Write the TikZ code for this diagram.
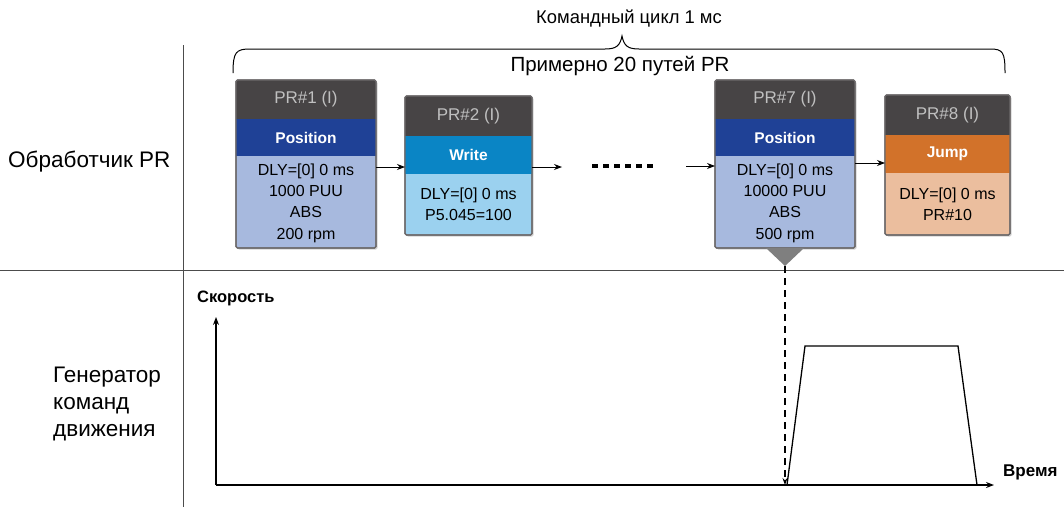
\documentclass[tikz,border=0pt]{standalone}
\usepackage{fontspec}
\setmainfont{Liberation Sans}
\usetikzlibrary{arrows.meta,shadows,decorations.pathreplacing}
\definecolor{hdr}{HTML}{474445}
\definecolor{hdrtxt}{HTML}{C0C0C0}
\definecolor{posblue}{HTML}{1F4196}
\definecolor{poslight}{HTML}{A7B9DE}
\definecolor{wrblue}{HTML}{0A85C5}
\definecolor{wrlight}{HTML}{9BD1EF}
\definecolor{jmp}{HTML}{D2722A}
\definecolor{jmplight}{HTML}{EBBE9E}
\definecolor{tri}{HTML}{7F7F7F}
\tikzset{
  x=1pt,y=-1pt,
  part/.style={anchor=north west,inner sep=0pt,outer sep=0pt,align=center},
  hdrbox/.style={part,fill=hdr,text=hdrtxt,font=\fontsize{17}{20}\selectfont},
  midbox/.style={part,text=white,font=\bfseries\fontsize{15.5}{18}\selectfont},
  bodybox/.style={part,text=black,font=\fontsize{16}{21.3}\selectfont},
  frame/.style={draw=hdr!80,line width=1.2pt,rounded corners=1.5pt,drop shadow={opacity=0.35,shadow xshift=1.5pt,shadow yshift=-1.5pt}},
  flow/.style={-{Stealth[length=8pt,width=6pt]},line width=0.9pt},
  axis/.style={-{Stealth[length=8pt,width=6pt]},line width=1.2pt},
  lbl/.style={font=\fontsize{22.5}{27}\selectfont,align=left,inner sep=0pt},
}
\begin{document}
\begin{tikzpicture}
\useasboundingbox (0,0) rectangle (1064,507);
% separators
\draw[line width=0.8pt,black!70] (183,45) -- (183,507);
\draw[line width=0.8pt,black!70] (0,270) -- (1064,270);
% left labels
\node[lbl,anchor=west] (lab1) at (8,162) {Обработчик PR};
\node[lbl,anchor=west] (lab2) at (53,404) {Генератор\\команд\\движения};
% brace
\draw[line width=1pt] (233,73) .. controls (233,52) and (236,49) .. (250,49) -- (605,49) .. controls (616,49) and (620,46) .. (622,36) .. controls (624,46) and (628,49) .. (639,49) -- (990,49) .. controls (1003,49) and (1005,52) .. (1005,73);
\node[font=\fontsize{18.4}{22}\selectfont] (cyc) at (629,19) {Командный цикл 1 мс};
\node[font=\fontsize{20.5}{24}\selectfont] (n20) at (620,66) {Примерно 20 путей PR};
% PR#1
\path[frame,fill=poslight] (236,80) rectangle (376,248);
\node[hdrbox,minimum width=140pt,minimum height=39pt] (p1h) at (236,80) {PR\#1 (I)};
\node[midbox,fill=posblue,minimum width=140pt,minimum height=37pt] (p1m) at (236,119) {Position};
\node[bodybox,minimum width=140pt,minimum height=92pt] (p1b) at (236,157) {DLY=[0] 0 ms\\1000 PUU\\ABS\\200 rpm};
\draw[draw=hdr!80,line width=1.2pt,rounded corners=1.5pt] (236,80) rectangle (376,248);
% PR#2
\path[frame,fill=wrlight] (405,96) rectangle (532,235);
\node[hdrbox,minimum width=127pt,minimum height=40pt] (p2h) at (405,96) {PR\#2 (I)};
\node[midbox,fill=wrblue,minimum width=127pt,minimum height=38pt] (p2m) at (405,136) {Write};
\node[bodybox,minimum width=127pt,minimum height=61pt] (p2b) at (405,174) {DLY=[0] 0 ms\\P5.045=100};
\draw[draw=hdr!80,line width=1.2pt,rounded corners=1.5pt] (405,96) rectangle (532,235);
% PR#7
\path[frame,fill=poslight] (715,80) rectangle (855,248);
\node[hdrbox,minimum width=140pt,minimum height=39pt] (p7h) at (715,80) {PR\#7 (I)};
\node[midbox,fill=posblue,minimum width=140pt,minimum height=37pt] (p7m) at (715,119) {Position};
\node[bodybox,minimum width=140pt,minimum height=92pt] (p7b) at (715,157) {DLY=[0] 0 ms\\10000 PUU\\ABS\\500 rpm};
\draw[draw=hdr!80,line width=1.2pt,rounded corners=1.5pt] (715,80) rectangle (855,248);
% PR#8
\path[frame,fill=jmplight] (885,95) rectangle (1010,235);
\node[hdrbox,minimum width=125pt,minimum height=40pt] (p8h) at (885,95) {PR\#8 (I)};
\node[midbox,fill=jmp,minimum width=125pt,minimum height=38pt] (p8m) at (885,135) {Jump};
\node[bodybox,minimum width=125pt,minimum height=62pt] (p8b) at (885,173) {DLY=[0] 0 ms\\PR\#10};
\draw[draw=hdr!80,line width=1.2pt,rounded corners=1.5pt] (885,95) rectangle (1010,235);
% arrows between boxes
\coordinate (a2e) at (562,167);
\coordinate (d1) at (592,166);
\coordinate (d2) at (656,166);
\coordinate (a7s) at (686,166);
\draw[flow] (p1b.north east |- 0,167) -- (p2m.south west |- 0,167);
\draw[flow] (p2m.south east |- 0,167) -- (a2e);
\draw[line width=3.5pt,dash pattern=on 6pt off 5pt] (d1) -- (d2);
\draw[flow] (a7s) -- (p7b.north west |- 0,166);
\draw[flow] (p7b.north east |- 0,163) -- (p8m.south west |- 0,163);
% triangle marker
\coordinate (tip) at (785,266);
\fill[tri] (766,248) -- (804,248) -- (tip) -- cycle;
% axes
\coordinate (org) at (216,485);
\coordinate (yend) at (216,317);
\coordinate (xend) at (994,485);
\draw[axis] (org) -- (yend);
\draw[axis] (org) -- (xend);
\node[font=\bfseries\fontsize{16.5}{18}\selectfont,anchor=west,inner sep=0pt] (vlab) at (197,298) {Скорость};
\node[font=\bfseries\fontsize{17}{18}\selectfont,anchor=west,inner sep=0pt] (tlab) at (1003,472) {Время};
% dashed drop line
\coordinate (hit) at (785,485);
\draw[line width=1.2pt,dash pattern=on 7pt off 5pt,-{Stealth[length=7pt,width=5pt]}] (tip) -- (hit);
% trapezoid profile
\draw[line width=1.3pt,line join=miter] (787,485) -- (805,346) -- (958,346) -- (977,485);
\end{tikzpicture}
\end{document}
